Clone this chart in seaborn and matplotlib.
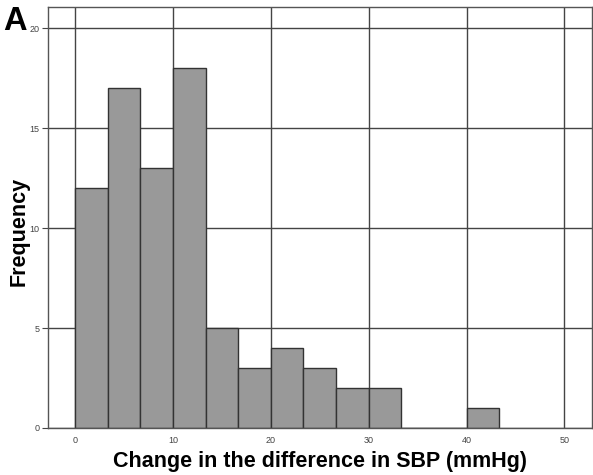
import numpy as np
import pandas as pd
import matplotlib
matplotlib.use("Agg")
import matplotlib.pyplot as plt
import seaborn as sns

# Data
bin_width = 10 / 3
bin_starts = [0, 10/3, 20/3, 10, 40/3, 50/3, 20, 70/3, 80/3, 30, 100/3, 110/3, 40]
counts = [12, 17, 13, 18, 5, 3, 4, 3, 2, 2, 0, 0, 1]
x_ticks = [0, 10, 20, 30, 40, 50]
y_ticks = [0, 5, 10, 15, 20]

df = pd.DataFrame({"start": bin_starts, "count": counts})
df["center"] = df["start"] + bin_width / 2
edges = list(df["start"]) + [df["start"].iloc[-1] + bin_width]

sns.set_style("white")
plt.rcParams["font.family"] = ["Liberation Sans", "DejaVu Sans"]

fig = plt.figure(figsize=(5.93, 4.75), dpi=100)
ax = fig.add_axes([0.081, 0.099, 0.917, 0.886])

ax.set_axisbelow(True)
ax.grid(True, color="#444444", linewidth=1.0)
sns.histplot(data=df, x="center", weights="count", bins=edges, ax=ax,
             color="#999999", edgecolor="#333333", linewidth=1.0, alpha=1.0)

ax.set_xlim(-2.76, 52.8)
ax.set_ylim(0, 21.05)
ax.set_xticks(x_ticks)
ax.set_yticks(y_ticks)
ax.tick_params(axis="both", labelsize=6.5, labelcolor="#444444", length=4,
               width=0.8, color="#444444", pad=2, direction="out",
               left=True, bottom=False)
for s in ax.spines.values():
    s.set_color("#555555")
    s.set_linewidth(1.0)

ax.set_xlabel("Change in the difference in SBP (mmHg)", fontsize=15.5,
              fontweight="bold", color="black")
ax.xaxis.set_label_coords(0.5, -0.054)
ax.set_ylabel("Frequency", fontsize=15.5, fontweight="bold", color="black")
ax.yaxis.set_label_coords(-0.034, 0.466)

fig.text(0.006, 0.937, "A", fontsize=23.5, fontweight="bold", va="baseline",
         ha="left", color="black")

fig.savefig("out.png", dpi=100)
